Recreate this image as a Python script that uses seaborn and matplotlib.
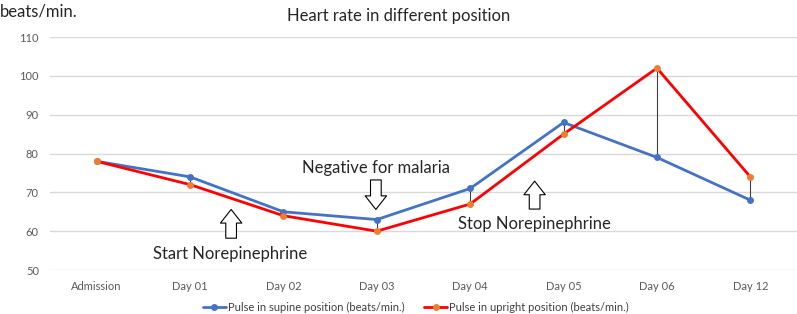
import matplotlib
matplotlib.use("Agg")
import matplotlib.pyplot as plt
import seaborn as sns
import pandas as pd

# --- data ---
days = ["Admission", "Day 01", "Day 02", "Day 03", "Day 04", "Day 05", "Day 06", "Day 12"]
supine = [78, 74, 65, 63, 71, 88, 79, 68]
upright = [78, 72, 64, 60, 67, 85, 102, 74]

sns.set_theme(style="white")
plt.rcParams["font.family"] = ["Lato", "DejaVu Sans"]

df = pd.DataFrame({"day": days, "supine": supine, "upright": upright})
df["pos"] = range(len(days))

fig = plt.figure(figsize=(7.97, 3.14), dpi=100)
ax = fig.add_axes([0.0627, 0.14, 0.9373, 0.742])

# high-low lines between the two series
ax.vlines(df["pos"], df[["supine", "upright"]].min(axis=1), df[["supine", "upright"]].max(axis=1),
          color="#404040", lw=0.8, zorder=2)

sns.lineplot(data=df, x="pos", y="supine", ax=ax, color="#4472C4", lw=2,
             marker="o", markersize=5, markeredgewidth=0, markerfacecolor="#4472C4",
             label="Pulse in supine position (beats/min.)", zorder=3)
sns.lineplot(data=df, x="pos", y="upright", ax=ax, color="#FF0000", lw=2,
             marker="o", markersize=5, markeredgewidth=0, markerfacecolor="#ED7D31",
             label="Pulse in upright position (beats/min.)", zorder=3)

ax.set_xlim(-0.5, len(days) - 0.5)
ax.set_ylim(50, 110)
ax.set_yticks(range(50, 111, 10))
ax.set_xticks(df["pos"])
ax.set_xticklabels(days)
ax.set_xlabel("")
ax.set_ylabel("")
ax.grid(axis="y", color="#D9D9D9", lw=1)
ax.grid(axis="x", visible=False)
ax.set_axisbelow(True)
for s in ax.spines.values():
    s.set_visible(False)
ax.tick_params(axis="both", length=0, labelsize=8, labelcolor="#595959", pad=8)

fig.text(0.5, 0.95, "Heart rate in different position", ha="center", va="center", fontsize=12)
fig.text(0.0, 0.962, "beats/min.", ha="left", va="center", fontsize=12)

# annotations with hollow block arrows
arrow_style = dict(arrowstyle="simple,head_length=0.7,head_width=1.1,tail_width=0.55",
                   fc="white", ec="black", lw=0.8, mutation_scale=14, shrinkA=0, shrinkB=0)
ax.annotate("", xy=(1.44, 65.6), xytext=(1.44, 58.2), arrowprops=arrow_style)
ax.annotate("", xy=(2.99, 65.6), xytext=(2.99, 73.2), arrowprops=arrow_style)
ax.annotate("", xy=(4.69, 72.9), xytext=(4.69, 65.7), arrowprops=arrow_style)
ax.text(1.43, 54.1, "Start Norepinephrine", ha="center", va="center", fontsize=12)
ax.text(2.99, 76.3, "Negative for malaria", ha="center", va="center", fontsize=12)
ax.text(4.69, 61.9, "Stop Norepinephrine", ha="center", va="center", fontsize=12)

ax.legend(loc="center", bbox_to_anchor=(0.49, -0.16), ncol=2, frameon=False,
          fontsize=8, handlelength=2.0, handletextpad=0.2, columnspacing=1.8,
          labelcolor="#404040")

fig.savefig("out.png", dpi=100)
